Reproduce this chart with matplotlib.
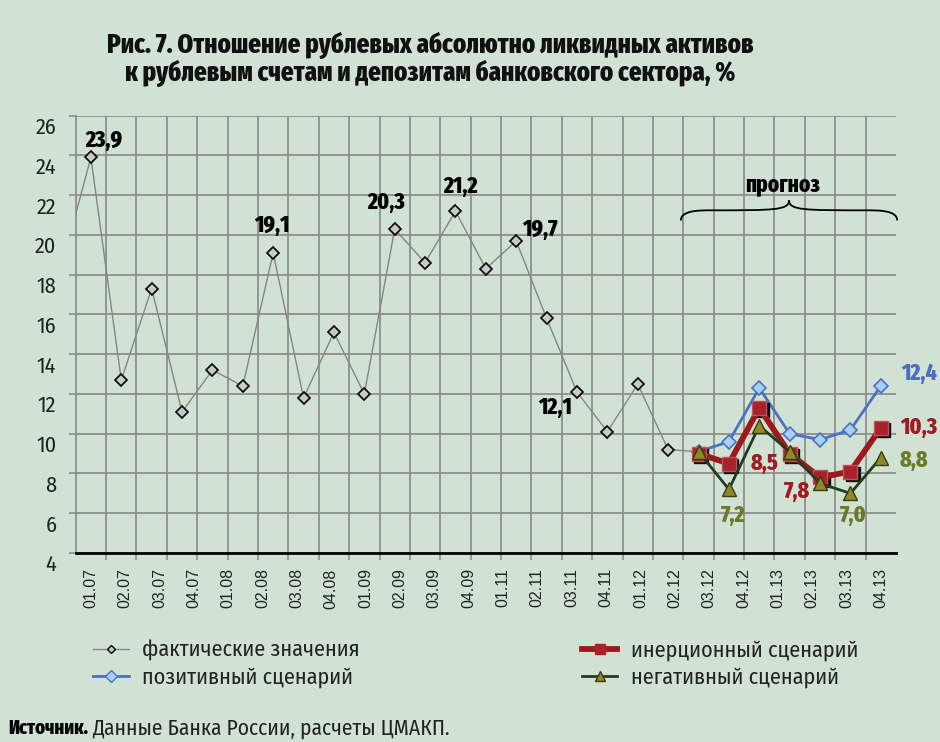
import numpy as np
import matplotlib
matplotlib.use("Agg")
import matplotlib.pyplot as plt
from matplotlib.path import Path
from matplotlib.patches import PathPatch
from matplotlib.lines import Line2D
import matplotlib.transforms as mtransforms

# ---------------- data ----------------
tick_labels = ["01.07", "02.07", "03.07", "04.07", "01.08", "02.08", "03.08", "04.08",
               "01.09", "02.09", "03.09", "04.09", "01.11", "02.11", "03.11", "04.11",
               "01.12", "02.12", "03.12", "04.12", "01.13", "02.13", "03.13", "04.13"]

# actual values (first one lies just left of the visible area)
actual = [18.2, 23.9, 12.7, 17.3, 11.1, 13.2, 12.4, 19.1, 11.8, 15.1, 12.0,
          20.3, 18.6, 21.2, 18.3, 19.7, 15.8, 12.1, 10.1, 12.5, 9.2, 9.1]
actual_x = np.arange(-1, len(actual) - 1)

forecast_x = np.arange(20, 27)
inertial = [9.0, 8.5, 11.3, 9.0, 7.8, 8.1, 10.3]
positive = [9.1, 9.6, 12.3, 10.0, 9.7, 10.2, 12.4]
negative = [9.1, 7.2, 10.4, 9.1, 7.5, 7.0, 8.8]

n_cat = 27

BG = "#d1e2d5"
GRID = "#8e8e8e"
HEAVY = ["Fira Sans Extra Condensed", "Oswald", "DejaVu Sans"]
COND = ["Fira Sans Condensed", "PT Sans Narrow", "DejaVu Sans"]

fig = plt.figure(figsize=(9.4, 7.42), dpi=100, facecolor=BG)
L, R, B, T = 75.7, 896, 553, 115.7
W, H = 940, 742
ax = fig.add_axes([L / W, 1 - B / H, (R - L) / W, (B - T) / H], facecolor=BG)

ax.set_xlim(-0.5, n_cat - 0.5)
ax.set_ylim(4, 26)

# grid
ax.set_xticks(np.arange(0.5, n_cat - 0.5, 1), minor=True)
ax.set_yticks(np.arange(4, 27, 2))
ax.grid(True, which="minor", axis="x", color=GRID, lw=1.3)
ax.grid(True, which="major", axis="y", color=GRID, lw=1.3)
ax.set_axisbelow(True)

for s in ["top", "right"]:
    ax.spines[s].set_visible(False)
ax.spines["left"].set_color(GRID)
ax.spines["left"].set_linewidth(1.3)
ax.spines["bottom"].set_color("black")
ax.spines["bottom"].set_linewidth(2)

# x labels (spread evenly across the category range)
ax.set_xticks(np.linspace(0, n_cat - 1, len(tick_labels)))
ax.set_xticklabels(tick_labels, rotation=90, fontsize=11.5,
                   family=["Liberation Sans", "DejaVu Sans"], color="#222222")
ax.tick_params(axis="x", which="major", length=0, pad=11)
ax.tick_params(axis="x", which="minor", length=5, color=GRID, width=1.2, direction="out")
ax.tick_params(axis="y", length=5, color=GRID, width=1.2, pad=9, labelsize=16)
for lab in ax.get_yticklabels():
    lab.set_family(COND)
    lab.set_color("#222222")
    lab.set_transform(lab.get_transform() +
                      mtransforms.ScaledTranslation(0, -10 / 100, fig.dpi_scale_trans))

# ---------------- series ----------------
ax.plot(actual_x, actual, color="#858585", lw=1.0, marker="D", ms=6,
        mfc="#c9c9c9", mec="black", mew=1.2, zorder=3, clip_on=True)

ax.plot(forecast_x, positive, color="#4a72c4", lw=2.0, marker="D", ms=7.5,
        mfc="#a9cff4", mec="#4a72c4", mew=1.2, zorder=4)

shadow = mtransforms.offset_copy(ax.transData, fig=fig, x=2.5, y=-2.5, units="dots")
ax.plot(forecast_x, inertial, color="#1a0a0a", lw=0, marker="s", ms=10,
        mfc="#111111", mec="#111111", transform=shadow, zorder=5)
ax.plot(forecast_x, inertial, color="#9b1a1e", lw=4.2, marker="s", ms=10,
        mfc="#a8222a", mec="#c0505a", mew=1.0, zorder=6, solid_joinstyle="miter")

ax.plot(forecast_x, negative, color="#1f3d1f", lw=2.0, marker="^", ms=9.5,
        mfc="#8c8a2a", mec="#3b3b12", mew=1.0, zorder=7)

# ---------------- labels ----------------
def lab(x, y, txt, dx, dy, color="black"):
    ax.annotate(txt, (x, y), xytext=(dx * 0.72, dy * 0.72), textcoords="offset points",
                ha="center", va="center", fontsize=17, fontweight=800,
                family=HEAVY, color=color, annotation_clip=False, zorder=10)

def fmt(v):
    return f"{v:.1f}".replace(".", ",")

BLACK = "black"
RED = "#a01c22"
BLUE = "#4a6fbf"
OLIVE = "#6b7a2a"

for i, dx, dy in [(1, 13, 17), (7, -1, 27), (11, -8, 27), (13, 5, 25), (15, 24, 12), (17, -22, -15)]:
    lab(actual_x[i], actual[i], fmt(actual[i]), dx, dy, BLACK)

lab(forecast_x[1], inertial[1], fmt(inertial[1]), 36, 0, RED)
lab(forecast_x[4], inertial[4], fmt(inertial[4]), -23, -14, RED)
lab(forecast_x[6], inertial[6], fmt(inertial[6]), 38, 0, RED)
lab(forecast_x[6], positive[6], fmt(positive[6]), 38, 13, BLUE)
lab(forecast_x[1], negative[1], fmt(negative[1]), 4, -26, OLIVE)
lab(forecast_x[5], negative[5], fmt(negative[5]), 3, -22, OLIVE)
lab(forecast_x[6], negative[6], fmt(negative[6]), 33, -3, OLIVE)

# ---------------- brace "прогноз" ----------------
x0, x1 = forecast_x[0] - 0.58, forecast_x[-1] + 0.54
xm = (x0 + x1) / 2
y_end, y_flat, y_tip = 20.73, 21.24, 21.74
verts = [(x0, y_end), (x0, y_flat), (x0 + 0.6, y_flat), (x0 + 1.0, y_flat),
         (xm - 0.5, y_flat), (xm, y_flat), (xm, y_tip),
         (xm, y_flat), (xm + 0.5, y_flat), (x1 - 1.0, y_flat),
         (x1 - 0.6, y_flat), (x1, y_flat), (x1, y_end)]
codes = [Path.MOVETO, Path.CURVE4, Path.CURVE4, Path.LINETO,
         Path.CURVE4, Path.CURVE4, Path.CURVE4,
         Path.CURVE4, Path.CURVE4, Path.CURVE4,
         Path.CURVE4, Path.CURVE4, Path.CURVE4]
ax.add_patch(PathPatch(Path(verts, codes), fc="none", ec="black", lw=1.3,
                       clip_on=False, zorder=8))
ax.text(xm - 0.2, 22.55, "прогноз", ha="center", va="center", fontsize=16.5,
        fontweight=800, family=HEAVY, color="black")

# ---------------- title ----------------
fig.text(430 / W, 1 - 45 / H, "Рис. 7. Отношение рублевых абсолютно ликвидных активов",
         ha="center", va="center", fontsize=19.5, fontweight=800, family=HEAVY,
         color="#111111")
fig.text(430 / W, 1 - 73 / H, "к рублевым счетам и депозитам банковского сектора, %",
         ha="center", va="center", fontsize=19.5, fontweight=800, family=HEAVY,
         color="#111111")

# ---------------- legend ----------------
handles = [
    Line2D([], [], color="#858585", lw=1.0, marker="D", ms=4, mfc="#c9c9c9", mec="black"),
    Line2D([], [], color="#4a72c4", lw=2.0, marker="D", ms=6, mfc="#a9cff4", mec="#4a72c4"),
    Line2D([], [], color="#9b1a1e", lw=4.2, marker="s", ms=7, mfc="#a8222a", mec="#a8222a"),
    Line2D([], [], color="#1f3d1f", lw=2.0, marker="^", ms=7, mfc="#8c8a2a", mec="#3b3b12"),
]
names = ["фактические значения", "позитивный сценарий", "инерционный сценарий",
         "негативный сценарий"]
leg = fig.legend(handles, names, ncol=2, loc="upper left",
                 bbox_to_anchor=(93 / W, 1 - 640 / H), frameon=False,
                 prop={"family": COND, "size": 16}, handlelength=1.6,
                 handletextpad=0.6, columnspacing=10.0, labelspacing=0.25,
                 borderpad=0, borderaxespad=0)
for t in leg.get_texts():
    t.set_color("#222222")

# ---------------- source ----------------
t1 = fig.text(8 / W, 1 - 728 / H, "Источник.", ha="left", va="center", fontsize=14.5,
              fontweight=800, family=HEAVY, color="black")
fig.canvas.draw()
bb = t1.get_window_extent()
fig.text((bb.x1 + 4) / W, 1 - 728 / H, "Данные Банка России, расчеты ЦМАКП.", ha="left",
         va="center", fontsize=15.5, family=COND, color="#222222")

fig.savefig("out.png", dpi=100, facecolor=BG)
